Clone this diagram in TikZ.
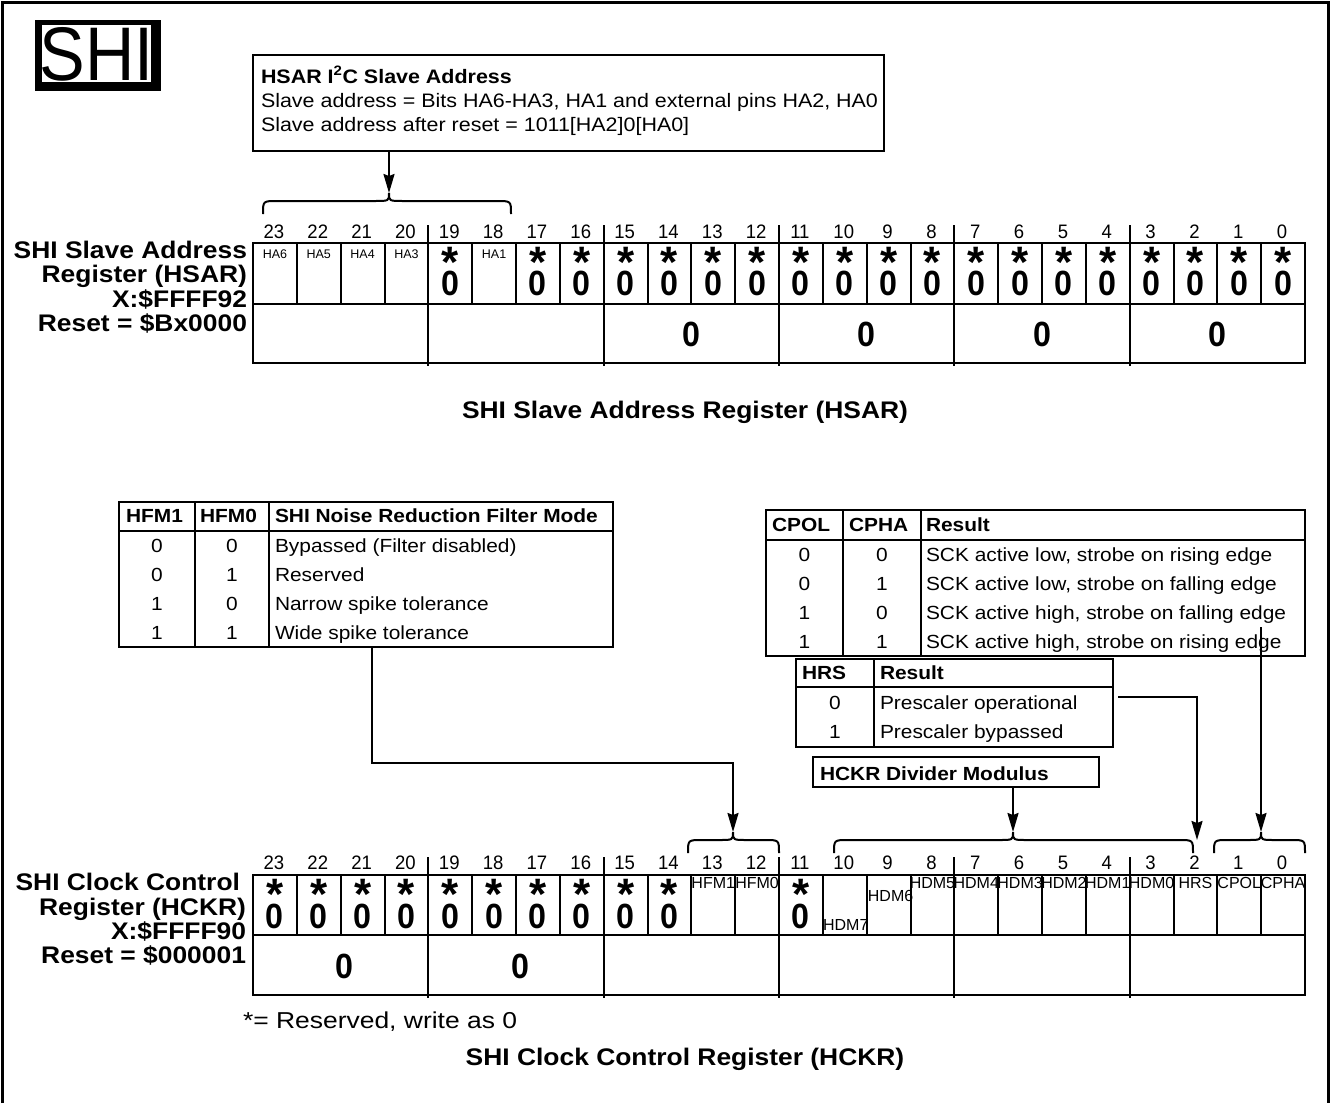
\documentclass[tikz,border=0pt]{standalone}
\usepackage{fontspec}
\setmainfont{Liberation Sans}[FakeStretch=1.1]
\newfontfamily\plainsans{Liberation Sans}
\newfontfamily\numfont{Liberation Sans}[FakeStretch=0.95]
\newfontfamily\wideont{Liberation Sans}[FakeStretch=1.15]
\newfontfamily\zerofont{Liberation Sans}[FakeStretch=0.92]
\newfontfamily\logofont{Liberation Sans}[FakeStretch=0.9]
\usetikzlibrary{arrows.meta}
\newcommand\fsz[1]{\fontsize{#1}{#1}\selectfont}
% brace: x1 xtip x2 ytip ymid yend
\newcommand\regbrace[6]{%
  \draw[brc] (#1,#6) .. controls (#1,#5) .. ({#1+14},#5) -- ({#2-14},#5)
    .. controls (#2,#5) .. (#2,#4) .. controls (#2,#5) .. ({#2+14},#5)
    -- ({#3-14},#5) .. controls (#3,#5) .. (#3,#6);}
\begin{document}
\begin{tikzpicture}[x=1pt,y=-1pt,
  txt/.style={inner sep=0pt, outer sep=0pt},
  lbl/.style={txt, anchor=base east, font=\fsz{24}\bfseries},
  captxt/.style={txt, anchor=base, font=\fsz{24}\bfseries},
  bitnum/.style={txt, anchor=base, font=\numfont\fsz{19.5}},
  rstar/.style={txt, anchor=base, font=\plainsans\fsz{44}\bfseries},
  rzero/.style={txt, anchor=base, font=\zerofont\fsz{35}\bfseries},
  celllbl/.style={txt, anchor=base, font=\plainsans\fsz{12.5}},
  celllblb/.style={txt, anchor=base, font=\plainsans\fsz{16}},
  tbold/.style={txt, anchor=base west, font=\fsz{19}\bfseries},
  tnorm/.style={txt, anchor=base west, font=\fsz{19}},
  tnum/.style={txt, anchor=base, font=\fsz{19}},
  boxframe/.style={draw, line width=2pt, inner sep=0pt, outer sep=0pt, anchor=north west},
  reg/.style={line width=2pt},
  brc/.style={line width=2pt},
  arr/.style={line width=2pt, -{Stealth[length=19pt,width=11pt,inset=2pt]}},
]
\useasboundingbox (0,0) rectangle (1333,1103);
% outer frame
\draw[line width=3pt] (2.5,1103) -- (2.5,2.5) -- (1328,2.5) -- (1328,1103);
% logo
\fill (35,20) rectangle (161,91);
\fill[white] (42,25) rectangle (151,82);
\node[txt, anchor=base, font=\logofont\fsz{76}] (logo) at (96.5,80) {SHI};

% ---------------- HSAR description box
\node[boxframe, minimum width=631pt, minimum height=96pt] (hsarbox) at (253,55) {};
\node[tbold, font=\fsz{19.5}\bfseries] (hsart) at (261,83) {HSAR I\textsuperscript{2}C Slave Address};
\node[tnorm, font=\fsz{19.5}] (hsarl1) at (261,107) {Slave address = Bits HA6-HA3, HA1 and external pins HA2, HA0};
\node[tnorm, font=\fsz{19.5}] (hsarl2) at (261,131) {Slave address after reset = 1011[HA2]0[HA0]};
\coordinate (tHSAR) at (389,193);
\draw[arr] (hsarbox.south -| tHSAR) -- (tHSAR);
\regbrace{263}{389}{511}{193}{201}{214}

% ---------------- HSAR register
\node[lbl] (sl1) at (247,258) {SHI Slave Address};
\node[lbl] (sl2) at (247,282.5) {Register (HSAR)};
\node[lbl] (sl3) at (247,307) {X:\$FFFF92};
\node[lbl] (sl4) at (247,331.5) {Reset = \$Bx0000};
\draw[reg] (253,243) rectangle (1305,363);
\draw[reg] (253,304) -- (1305,304);
\foreach \i in {1,2,3,5,6,7,9,10,11,13,14,15,17,18,19,21,22,23}
  \draw[reg] ({253+\i*43.8333},243) -- ({253+\i*43.8333},304);
\foreach \i in {4,8,12,16,20}
  \draw[reg] ({253+\i*43.8333},225) -- ({253+\i*43.8333},366);
\foreach \b in {0,...,23}
  \node[bitnum] (sn\b) at ({253+(23.5-\b)*43.8333-1},238) {\b};
\foreach \b/\t in {23/HA6,22/HA5,21/HA4,20/HA3,18/HA1}
  \node[celllbl] (sc\b) at ({253+(23.5-\b)*43.8333},258) {\t};
\foreach \b in {19,17,16,15,14,13,12,11,10,9,8,7,6,5,4,3,2,1,0}{
  \node[rstar] (ss\b) at ({253+(23.5-\b)*43.8333},277) {*};
  \node[rzero] (sz\b) at ({253+(23.5-\b)*43.8333},295) {0};
}
\foreach \g in {2,3,4,5}
  \node[rzero] (sg\g) at ({253+(4*\g+2)*43.8333},346) {0};
\node[captxt] (capA) at (685,418) {SHI Slave Address Register (HSAR)};

% ---------------- HFM table
\node[boxframe, minimum width=494pt, minimum height=145pt] (hfm) at (119,502) {};
\draw[reg] (119,531) -- (613,531);
\draw[reg] (195,502) -- (195,647);
\draw[reg] (269,502) -- (269,647);
\node[tbold] (hfmh1) at (126,522) {HFM1};
\node[tbold] (hfmh2) at (200,522) {HFM0};
\node[tbold] (hfmh3) at (275,522) {SHI Noise Reduction Filter Mode};
\node[tnum] (hfma1) at (157,552) {0}; \node[tnum] (hfmb1) at (232,552) {0};
\node[tnorm] (hfmt1) at (275,552) {Bypassed (Filter disabled)};
\node[tnum] (hfma2) at (157,581) {0}; \node[tnum] (hfmb2) at (232,581) {1};
\node[tnorm] (hfmt2) at (275,581) {Reserved};
\node[tnum] (hfma3) at (157,610) {1}; \node[tnum] (hfmb3) at (232,610) {0};
\node[tnorm] (hfmt3) at (275,610) {Narrow spike tolerance};
\node[tnum] (hfma4) at (157,639) {1}; \node[tnum] (hfmb4) at (232,639) {1};
\node[tnorm] (hfmt4) at (275,639) {Wide spike tolerance};

% ---------------- CPOL table
\node[boxframe, minimum width=539pt, minimum height=146pt] (cpol) at (766,510) {};
\draw[reg] (766,540) -- (1305,540);
\draw[reg] (843,510) -- (843,656);
\draw[reg] (921,510) -- (921,656);
\node[tbold] (cph1) at (772,531) {CPOL};
\node[tbold] (cph2) at (849,531) {CPHA};
\node[tbold] (cph3) at (926,531) {Result};
\node[tnum] (cpa1) at (804.5,561) {0}; \node[tnum] (cpb1) at (882,561) {0};
\node[tnorm] (cpt1) at (926,561) {SCK active low, strobe on rising edge};
\node[tnum] (cpa2) at (804.5,590) {0}; \node[tnum] (cpb2) at (882,590) {1};
\node[tnorm] (cpt2) at (926,590) {SCK active low, strobe on falling edge};
\node[tnum] (cpa3) at (804.5,619) {1}; \node[tnum] (cpb3) at (882,619) {0};
\node[tnorm] (cpt3) at (926,619) {SCK active high, strobe on falling edge};
\node[tnum] (cpa4) at (804.5,648) {1}; \node[tnum] (cpb4) at (882,648) {1};
\node[tnorm] (cpt4) at (926,648) {SCK active high, strobe on rising edge};

% ---------------- HRS table
\node[boxframe, minimum width=317pt, minimum height=88pt] (hrs) at (796,659) {};
\draw[reg] (796,687) -- (1113,687);
\draw[reg] (874,659) -- (874,747);
\node[tbold] (hrsh1) at (802,679) {HRS};
\node[tbold] (hrsh2) at (880,679) {Result};
\node[tnum] (hrsa1) at (835,709) {0};
\node[tnorm] (hrst1) at (880,709) {Prescaler operational};
\node[tnum] (hrsa2) at (835,738) {1};
\node[tnorm] (hrst2) at (880,738) {Prescaler bypassed};

% ---------------- divider box
\node[boxframe, minimum width=286pt, minimum height=30pt] (hdm) at (813,757) {};
\node[tbold] (hdmt) at (820,780) {HCKR Divider Modulus};

% ---------------- connectors to HCKR
\coordinate (kHFM) at (372,763);
\coordinate (tHFM) at (733,832);
\draw[arr] (hfm.south west -| kHFM) -- (kHFM) -| (tHFM);
\coordinate (tHDM) at (1013,832);
\draw[arr] (hdm.south -| tHDM) -- (tHDM);
\coordinate (kHRS) at (1118,697);
\coordinate (tHRS) at (1197,840);
\draw[arr] (kHRS) -| (tHRS);
\coordinate (sCP) at (1261,627);
\coordinate (tCP) at (1261,832);
\draw[arr] (sCP) -- (tCP);
\regbrace{688}{733}{779}{832}{840}{853}
\regbrace{834}{1013}{1193}{832}{840}{853}
\regbrace{1214}{1261}{1305}{832}{840}{853}

% ---------------- HCKR register
\node[lbl] (cl1) at (240,890) {SHI Clock Control};
\node[lbl] (cl2) at (246,915) {Register (HCKR)};
\node[lbl] (cl3) at (246,939) {X:\$FFFF90};
\node[lbl] (cl4) at (246,963) {Reset = \$000001};
\draw[reg] (253,875) rectangle (1305,995);
\draw[reg] (253,935) -- (1305,935);
\foreach \i in {1,2,3,5,6,7,9,10,11,13,14,15,17,18,19,21,22,23}
  \draw[reg] ({253+\i*43.8333},875) -- ({253+\i*43.8333},935);
\foreach \i in {4,8,12,16,20}
  \draw[reg] ({253+\i*43.8333},857) -- ({253+\i*43.8333},998);
\foreach \b in {0,...,23}
  \node[bitnum] (cn\b) at ({253+(23.5-\b)*43.8333-1},869) {\b};
\foreach \b in {23,22,21,20,19,18,17,16,15,14,11}{
  \node[rstar] (cs\b) at ({253+(23.5-\b)*43.8333},909) {*};
  \node[rzero] (cz\b) at ({253+(23.5-\b)*43.8333},928) {0};
}
\foreach \b/\t in {13/HFM1,12/HFM0,8/HDM5,7/HDM4,6/HDM3,5/HDM2,4/HDM1,3/HDM0,2/HRS,1/CPOL,0/CPHA}
  \node[celllblb] (cc\b) at ({253+(23.5-\b)*43.8333},888) {\t};
\node[celllblb] (cc9) at ({253+(23.5-9)*43.8333+2},901) {HDM6};
\node[celllblb] (cc10) at ({253+(23.5-10)*43.8333+1},930) {HDM7};
\foreach \g in {0,1}
  \node[rzero] (cg\g) at ({253+(4*\g+2)*43.8333+4},978) {0};
\node[txt, anchor=base west, font=\wideont\fsz{23}] (note) at (243,1028) {*= Reserved, write as 0};
\node[captxt] (capB) at (685,1065) {SHI Clock Control Register (HCKR)};
\end{tikzpicture}
\end{document}
